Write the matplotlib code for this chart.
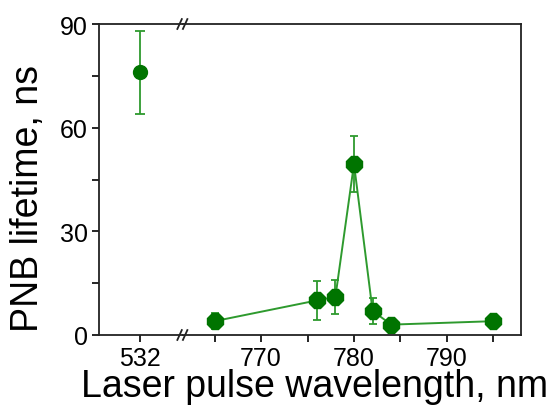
import matplotlib
matplotlib.use("Agg")
import matplotlib.pyplot as plt
from matplotlib.ticker import FixedLocator

plt.rcParams['font.family'] = ['Liberation Sans', 'DejaVu Sans']

# data
wl_green = [532]
life_green = [76]
err_green = [12]

wl_nir = [765, 776, 778, 780, 782, 784, 795]
life_nir = [4, 10, 11, 49.5, 7, 3, 4]
err_nir = [2.3, 5.7, 4.8, 8, 3.7, 1, 1]

major_right = [770, 780, 790]
minor_right = [765, 775, 785, 795]
y_major = [0, 30, 60, 90]
y_minor = [15, 45, 75]

mark_col = "#007400"
line_col = "#2e9a2e"

fig = plt.figure(figsize=(5.56, 4.1), dpi=100)
ax1 = fig.add_axes([0.178, 0.1805, 0.151, 0.7585])
ax2 = fig.add_axes([0.329, 0.1805, 0.608, 0.7585])

ax1.errorbar(wl_green, life_green, yerr=err_green, fmt='o', color=mark_col,
             ecolor=line_col, elinewidth=1.3, capsize=3.5, capthick=1.3,
             markersize=10, clip_on=False)
ax2.errorbar(wl_nir, life_nir, yerr=err_nir, fmt='8', color=mark_col,
             ecolor=line_col, elinewidth=1.3, capsize=3, capthick=1.3,
             markersize=12, clip_on=False)
ax2.plot(wl_nir, life_nir, color=line_col, lw=1.4, zorder=1)

ax1.set_xlim(527.6, 536.6)
ax2.set_xlim(761.6, 797.96)
ax1.set_ylim(0, 90)
ax2.set_ylim(0, 90)

ax1.spines['right'].set_visible(False)
ax2.spines['left'].set_visible(False)
for ax in (ax1, ax2):
    for s in ax.spines.values():
        s.set_linewidth(1.3)
        s.set_color("#222222")

ax1.set_xticks([532])
ax2.set_xticks(major_right)
ax2.xaxis.set_minor_locator(FixedLocator(minor_right))
ax1.set_yticks(y_major)
ax1.yaxis.set_minor_locator(FixedLocator(y_minor))
ax2.set_yticks([])
for ax in (ax1, ax2):
    ax.tick_params(which='major', direction='out', length=5, width=1.2,
                   labelsize=18, pad=3)
    ax.tick_params(which='minor', direction='out', length=5, width=1.2)

fig.text(0.05, 0.515, "PNB lifetime, ns", fontsize=27, rotation=90,
         ha='center', va='center')
fig.text(0.565, 0.055, "Laser pulse wavelength, nm", fontsize=27,
         ha='center', va='center')

# break marks "//"
for yb in (0, 1):
    for dx in (-0.006, 0.004):
        fig.add_artist(plt.Line2D([0.329 + dx - 0.004, 0.329 + dx + 0.004],
                                  [0.1805 + yb * 0.7585 - 0.012,
                                   0.1805 + yb * 0.7585 + 0.012],
                                  color="#222222", lw=1.3))

fig.savefig("out.png", dpi=100)
